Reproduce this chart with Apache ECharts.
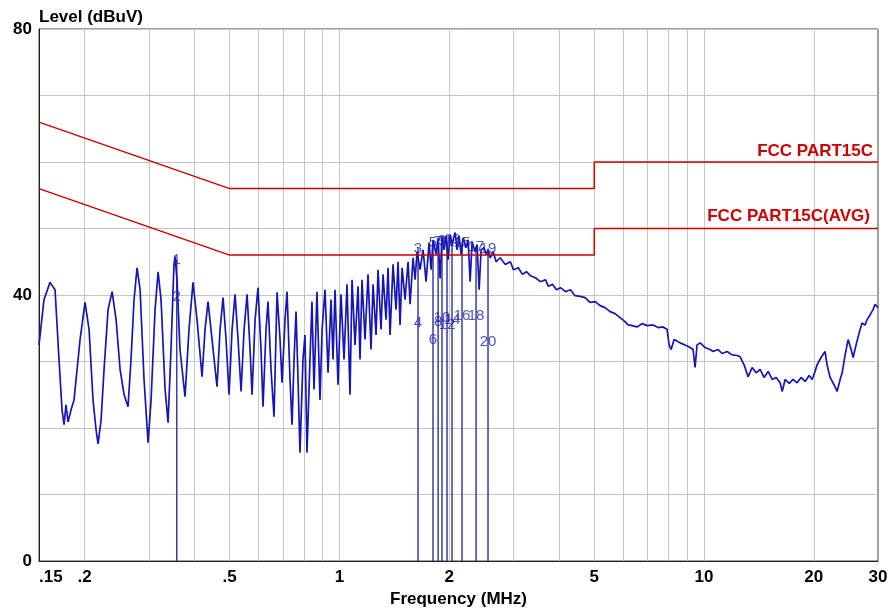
<!DOCTYPE html>
<html>
<head>
<meta charset="utf-8">
<title>Level (dBuV)</title>
<script src="https://cdn.jsdelivr.net/npm/echarts@6/dist/echarts.min.js"></script>
<style>
html, body { margin: 0; padding: 0; background: #fff; }
#chart { width: 896px; height: 610px; }
</style>
</head>
<body>
<div id="chart"></div>
<script>
/*grid lines and tick labels*/
var gridFreq = [0.2, 0.3, 0.4, 0.5, 0.6, 0.7, 0.8, 0.9, 1, 2, 3, 4, 5, 6, 7, 8, 9, 10, 20];
var labelFreq = [0.15, 0.2, 0.5, 1, 2, 5, 10, 20, 30];
var levelLabels = [0, 40, 80];

/*FCC limits*/
var limitFreq = [0.15, 0.5, 5, 5, 30];
var limitQP = [66, 56, 56, 60, 60];
var limitAvg = [56, 46, 46, 50, 50];

/*measured trace (MHz / dBuV)*/
var traceFreq = [
	0.150, 0.1548, 0.1608, 0.166, 0.1702, 0.1735, 0.1757, 0.1779, 0.1802, 0.1836, 0.1871,
	0.1944, 0.2006, 0.2058, 0.211, 0.2151, 0.2178, 0.222, 0.2262, 0.232, 0.238, 0.2441, 0.2503, 0.2567,
	0.2632, 0.2682, 0.2734, 0.2786, 0.284, 0.2912, 0.2987, 0.3044, 0.3122, 0.3182, 0.3242, 0.3326, 0.3389,
	0.3452, 0.3518, 0.3541, 0.3586, 0.3654, 0.3772, 0.3868, 0.3967, 0.4069, 0.42, 0.428, 0.4362, 0.4474, 0.4617,
	0.4706, 0.4796, 0.4888, 0.4981, 0.5077, 0.5174, 0.5273, 0.5374, 0.5477, 0.5582, 0.5688, 0.576, 0.5871,
	0.5981, 0.6095, 0.6173, 0.6291, 0.6371, 0.6493, 0.6617,
	0.6744, 0.6873, 0.696, 0.7094, 0.7184, 0.7321, 0.7414, 0.7509, 0.7604, 0.7701,
	0.7795, 0.7945, 0.8046, 0.8148, 0.8304, 0.841, 0.8517, 0.8679, 0.8846,
	0.8964, 0.9131, 0.9307,
	0.9483, 0.9604, 0.9726, 0.9912, 1.0101, 1.0295, 1.0492, 1.0693, 1.0829, 1.1036, 1.1247, 1.139, 1.1535, 1.1755, 1.198, 1.221, 1.2365,
	1.2602, 1.2762, 1.3006, 1.3172, 1.3424, 1.3595, 1.3768, 1.4031, 1.43, 1.4482, 1.4667, 1.4854, 1.5138, 1.5428, 1.5624, 1.5923, 1.6126,
	1.633, 1.6643, 1.6962, 1.7286, 1.7617, 1.784, 1.8068, 1.8413, 1.8648, 1.8885, 1.9125, 1.9369, 1.9615, 1.9865, 2.0117, 2.0373, 2.0763, 2.1027,
	2.1295, 2.1566, 2.1841, 2.2258, 2.2542, 2.2828, 2.3118, 2.356, 2.386, 2.4164, 2.4471, 2.494, 2.5257, 2.5579, 2.5904, 2.64, 2.6904, 2.7594,
	2.852, 2.944, 3.0, 3.096, 3.176, 3.257, 3.34, 3.447, 3.559, 3.673,
	3.743, 3.841, 3.937, 4.038, 4.168, 4.302, 4.428, 4.572, 4.718, 4.869,
	5.03, 5.187, 5.353, 5.526, 5.7, 5.884, 6.072, 6.189, 6.347, 6.551,
	6.761, 6.98, 7.248, 7.482, 7.722, 7.92, 8.02, 8.122, 8.278, 8.598,
	8.926, 9.155, 9.33, 9.449, 9.569, 9.757, 10.07, 10.39, 10.59, 10.93,
	11.21, 11.57, 11.94, 12.32, 12.56, 12.88, 13.21, 13.55, 13.89, 14.25,
	14.61, 14.99, 15.38, 15.77, 16.17, 16.38, 16.69, 17.12, 17.55, 18.0,
	18.46, 18.93, 19.42, 19.79, 20.16, 20.42, 20.94, 21.48, 21.75, 22.17,
	22.73, 23.17, 23.62, 23.92, 24.38, 24.84, 25.32, 25.64, 26.12, 26.79,
	27.13, 27.65, 28.0, 28.53, 29.08, 29.45, 30.0
];
var traceLevel = [
	32.5, 39.3, 41.9, 40.8, 30.3, 22.7, 20.5, 23.5, 20.9, 22.7, 24.2,
	33.3, 38.9, 34.8, 24.2, 19.7, 17.6, 21.2, 28.8, 37.8, 40.5, 36.3, 28.8, 25.0,
	23.2, 30.3, 39.3, 44.1, 40.8, 27.3, 17.8, 24.2, 37.8, 43.5, 39.3, 25.8, 20.8,
	31.8, 44.6, 45.8, 42.3, 31.8, 24.7, 34.8, 41.9, 36.3, 27.7, 34.8, 39.0, 33.3, 26.2,
	34.8, 39.6, 33.3, 25.0, 34.8, 40.1, 33.3, 25.5, 34.8, 40.1, 31.8, 25.0, 36.3,
	41.1, 31.8, 23.2, 34.8, 39.0, 28.8, 21.7,
	40.4, 33.3, 26.8, 36.3, 40.5, 27.3, 20.5, 30.3, 37.5, 27.3,
	16.3, 30.3, 34.0, 16.3, 30.3, 39.0, 25.8, 40.5, 24.2,
	34.8, 40.8, 28.3,
	39.3, 30.3, 40.8, 26.5, 40.1, 30.3, 41.6, 25.0, 42.3, 32.5, 41.3, 30.3, 42.3, 33.3, 43.1, 31.8, 41.6,
	34.0, 43.8, 34.8, 43.1, 36.3, 44.1, 34.0, 44.6, 37.8, 45.0, 35.5, 44.1, 39.3, 45.0, 38.6, 45.6, 42.3,
	46.5, 43.8, 46.8, 42.0, 47.9, 43.8, 48.3, 46.1, 48.6, 42.5, 48.8, 46.8, 48.9, 45.3, 49.1, 47.6, 49.4, 46.8,
	48.9, 46.1, 48.6, 47.1, 48.3, 42.0, 48.0, 46.5, 47.6, 40.8, 46.8, 47.1, 46.1, 46.8, 45.6, 46.5, 45.0, 45.6,
	44.6, 45.0, 43.8, 44.1, 43.1, 43.5, 42.9, 42.6, 42.0, 42.3,
	41.3, 41.6, 40.8, 41.1, 40.5, 40.8, 39.9, 39.8, 39.6, 38.9,
	39.0, 38.4, 38.1, 37.5, 37.2, 36.6, 36.0, 35.5, 35.4, 35.2,
	35.7, 35.4, 35.5, 35.1, 35.2, 34.8, 32.5, 31.8, 33.3, 32.8,
	32.4, 32.1, 31.8, 29.1, 32.5, 32.8, 32.1, 31.8, 31.5, 31.8,
	31.2, 31.5, 31.0, 30.9, 30.7, 29.5, 27.7, 29.1, 28.3, 28.8,
	27.6, 28.5, 27.3, 27.6, 26.8, 25.5, 27.3, 26.7, 27.3, 26.8,
	27.6, 27.0, 27.9, 27.3, 28.5, 29.5, 30.6, 31.5, 29.5, 27.6,
	26.5, 25.5, 27.3, 28.3, 31.0, 33.3, 31.8, 30.6, 32.5, 34.8,
	35.8, 35.5, 36.3, 37.0, 37.8, 38.6, 38.1
];

/*markers: odd number = QP reading, even number = AVG reading*/
var markerFreq = [0.358, 1.643, 1.806, 1.865, 1.911, 1.973, 2.036, 2.169, 2.37, 2.556];
var markerQP = [45.3, 47.0, 47.8, 48.0, 48.2, 48.0, 48.3, 47.9, 47.3, 47.0];
var markerAvg = [39.7, 35.8, 33.2, 36.0, 36.6, 35.5, 36.2, 36.8, 36.9, 33.0];

var fontFamily = 'Arial, "Liberation Sans", sans-serif';

function pairs(xs, ys) {
	var out = [];
	for(var i = 0; i < xs.length; i++) {
		out.push([xs[i], ys[i]]);
	}
	return out;
}

/*vertical marker lines from 0 up to the QP reading*/
function markerLines() {
	var out = [];
	for(var i = 0; i < markerFreq.length; i++) {
		out.push([markerFreq[i], 0]);
		out.push([markerFreq[i], markerQP[i]]);
		out.push([markerFreq[i], '-']);
	}
	return out;
}

function markerTexts() {
	var out = [];
	for(var i = 0; i < markerFreq.length; i++) {
		out.push({ name: String(2 * i + 1), value: [markerFreq[i], markerQP[i]] });
		out.push({ name: String(2 * i + 2), value: [markerFreq[i], markerAvg[i]] });
	}
	return out;
}

function freqLabel(v) {
	var s = String(+Number(v).toPrecision(3));
	return s.replace(/^0\./, '.');
}

function limitName(text, y, offset) {
	return {
		symbol: 'circle',
		symbolSize: 0,
		silent: true,
		itemStyle: { color: 'rgba(0,0,0,0)' },
		label: {
			show: true,
			position: 'left',
			distance: 5,
			offset: offset,
			formatter: text,
			color: '#cc0000',
			fontWeight: 'bold',
			fontSize: 17,
			fontFamily: fontFamily
		},
		data: [{ coord: [30, y] }]
	};
}

var chart = echarts.init(document.getElementById('chart'), null, { renderer: 'canvas' });

var option = {
	animation: false,
	backgroundColor: '#fff',
	grid: {
		left: 39,
		right: 18,
		top: 29,
		bottom: 49,
		outerBoundsMode: 'none',
		containLabel: false,
		show: true,
		borderColor: '#444',
		borderWidth: 1
	},
	xAxis: {
		type: 'log',
		logBase: 10,
		min: 0.15,
		max: 30,
		name: 'Frequency (MHz)',
		nameLocation: 'middle',
		nameGap: 28,
		nameTextStyle: { color: '#000', fontWeight: 'bold', fontSize: 17, fontFamily: fontFamily },
		axisLine: { show: true, lineStyle: { color: '#222', width: 1 } },
		axisTick: { show: false, customValues: gridFreq },
		minorTick: { show: false },
		axisLabel: {
			customValues: labelFreq,
			formatter: freqLabel,
			alignMinLabel: 'left',
			margin: 8,
			color: '#000',
			fontWeight: 'bold',
			fontSize: 17,
			fontFamily: fontFamily
		},
		splitLine: { show: true, lineStyle: { color: '#c4c4c4', width: 1 } }
	},
	yAxis: {
		type: 'value',
		min: 0,
		max: 80,
		interval: 10,
		name: 'Level (dBuV)',
		nameLocation: 'end',
		nameGap: 3,
		nameTextStyle: { align: 'left', color: '#000', fontWeight: 'bold', fontSize: 17, fontFamily: fontFamily },
		axisLine: { show: true, lineStyle: { color: '#222', width: 1 } },
		axisTick: { show: false },
		axisLabel: {
			formatter: function(v) {
				return levelLabels.indexOf(v) >= 0 ? String(v) : '';
			},
			margin: 7,
			padding: [4, 0, 0, 0],
			color: '#000',
			fontWeight: 'bold',
			fontSize: 17,
			fontFamily: fontFamily
		},
		splitLine: { show: true, lineStyle: { color: '#c4c4c4', width: 1 } }
	},
	series: [{
		name: 'markers',
		type: 'line',
		data: markerLines(),
		showSymbol: false,
		connectNulls: false,
		lineStyle: { color: '#3c3ca2', width: 1.5 },
		z: 2
	}, {
		name: 'trace',
		type: 'line',
		data: pairs(traceFreq, traceLevel),
		showSymbol: false,
		lineStyle: { color: '#1616b4', width: 1.7 },
		z: 3
	}, {
		name: 'FCC PART15C',
		type: 'line',
		data: pairs(limitFreq, limitQP),
		showSymbol: false,
		lineStyle: { color: '#cc0000', width: 1.5 },
		markPoint: limitName('FCC PART15C', 60, [0, -11]),
		z: 4
	}, {
		name: 'FCC PART15C(AVG)',
		type: 'line',
		data: pairs(limitFreq, limitAvg),
		showSymbol: false,
		lineStyle: { color: '#cc0000', width: 1.5 },
		markPoint: limitName('FCC PART15C(AVG)', 50, [-3, -12]),
		z: 4
	}, {
		name: 'marker labels',
		type: 'scatter',
		data: markerTexts(),
		symbolSize: 1,
		itemStyle: { color: 'rgba(0,0,0,0)' },
		label: {
			show: true,
			position: 'inside',
			formatter: '{b}',
			color: '#2424c0',
			fontSize: 15,
			fontFamily: fontFamily
		},
		z: 5
	}]
};

chart.setOption(option);
</script>
</body>
</html>
